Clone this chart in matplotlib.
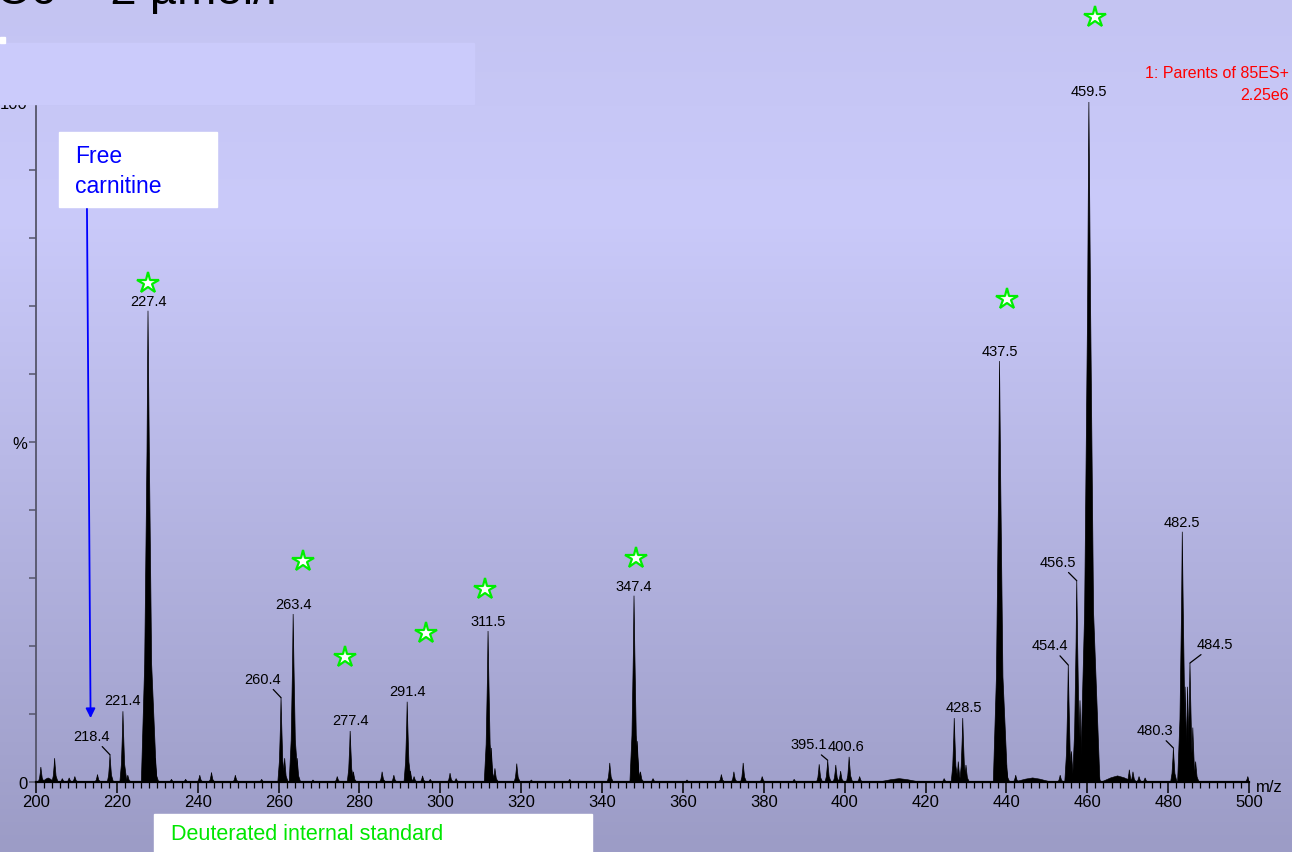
import numpy as np
import matplotlib

matplotlib.use("Agg")
import matplotlib.pyplot as plt
from matplotlib.colors import LinearSegmentedColormap
from matplotlib.patches import Rectangle

plt.rcParams["font.family"] = ["Liberation Sans", "DejaVu Sans"]

# apex position (as drawn on the m/z axis) and relative intensity (%) of each peak
peak_mz = [
    201.2, 204.6, 206.5, 208.2, 209.6, 215.2, 218.3, 221.5, 222.7,
    227.7, 228.6, 229.5, 233.5, 237.0, 240.5, 243.4, 249.3, 255.8,
    260.6, 261.5, 263.6, 264.6, 268.5, 274.5, 277.7, 278.5, 285.6, 288.5,
    291.8, 292.6, 293.5, 295.6, 297.5, 302.4, 303.9,
    311.8, 312.6, 313.5, 318.9, 322.5, 332.0, 341.9,
    347.9, 348.7, 349.5, 352.6, 361.0, 369.5, 372.6, 374.9, 379.6, 387.5,
    393.7, 395.8, 397.8, 399.0, 401.1, 403.7, 424.6,
    427.1, 428.1, 429.2, 430.0, 438.3, 439.2, 440.0, 442.3, 453.3,
    455.3, 456.1, 457.4, 458.2, 459.0, 460.4, 461.1, 461.8, 462.5,
    470.4, 471.3, 472.8, 474.3, 481.3, 483.5, 484.2, 484.8, 485.4,
    486.1, 486.8, 499.7,
]
peak_int = [
    2.2, 3.5, 0.5, 0.6, 0.8, 1.1, 4.0, 10.4, 1.0,
    69.3, 8.0, 3.5, 0.4, 0.4, 1.0, 1.4, 1.0, 0.4,
    12.4, 3.5, 24.7, 3.5, 0.3, 0.8, 7.5, 1.5, 1.5, 1.0,
    11.8, 1.6, 0.8, 0.9, 0.4, 1.3, 0.5,
    22.2, 5.0, 2.0, 2.7, 0.3, 0.4, 2.8,
    27.4, 6.0, 1.5, 0.5, 0.3, 1.1, 1.5, 2.8, 0.8, 0.4,
    2.6, 3.2, 2.5, 1.6, 3.7, 0.8, 0.5,
    9.4, 3.0, 9.4, 2.5, 61.9, 9.0, 2.5, 1.0, 1.0,
    17.2, 4.5, 29.6, 12.0, 8.0, 100.0, 30.0, 10.0, 3.0,
    1.8, 1.5, 0.8, 0.6, 5.0, 36.8, 14.0, 14.0, 17.5,
    8.0, 3.0, 0.8,
]

# broad low humps in the baseline
hump_mz = [203.0, 413.5, 446.5, 467.5]
hump_int = [0.6, 0.5, 0.6, 0.9]
hump_width = [1.5, 5.0, 4.5, 4.0]

# labelled peaks: (label, apex m/z, intensity, label offset in px, leader line)
labels = [
    ("218.4", 218.3, 4.0, (-18, 19), True),
    ("221.4", 221.5, 10.4, (0, 4), False),
    ("227.4", 227.7, 69.3, (0, 3), False),
    ("260.4", 260.6, 12.4, (-18, 19), True),
    ("263.4", 263.6, 24.7, (0, 3), False),
    ("277.4", 277.7, 7.5, (0, 4), False),
    ("291.4", 291.8, 11.8, (0, 4), False),
    ("311.5", 311.8, 22.2, (0, 3), False),
    ("347.4", 347.9, 27.4, (0, 3), False),
    ("395.1", 395.8, 3.2, (-19, 16), True),
    ("400.6", 401.1, 3.7, (-3, 4), False),
    ("428.5", 429.2, 9.4, (1, 4), False),
    ("437.5", 438.3, 61.9, (0, 3), False),
    ("454.4", 455.3, 17.2, (-18, 20), True),
    ("456.5", 457.4, 29.6, (-19, 19), True),
    ("459.5", 460.4, 100.0, (0, 4), False),
    ("480.3", 481.3, 5.0, (-18, 18), True),
    ("482.5", 483.5, 36.8, (0, 3), False),
    ("484.5", 485.4, 17.5, (25, 19), True),
]

# deuterated internal standards (stars)
star_mz = [227.7, 266.0, 276.4, 296.5, 311.0, 348.4, 440.2, 461.9]
star_int = [73.4, 32.5, 18.4, 21.9, 28.4, 33.0, 71.0, 112.5]

title = "C6 = 2 \u00b5mol/l"
trace_title = "1: Parents of 85ES+"
trace_scale = "2.25e6"

W, H = 1292, 853
fig = plt.figure(figsize=(W / 100, H / 100), dpi=100)

# background gradient
bg = fig.add_axes([0, 0, 1, 1], zorder=-10)
cmap = LinearSegmentedColormap.from_list(
    "bg",
    [(0.0, "#c4c4f2"), (0.25, "#cacafa"), (0.55, "#b8b8e6"), (1.0, "#9c9cc6")],
)
bg.imshow(np.linspace(0, 1, 256)[:, None], aspect="auto", cmap=cmap,
          extent=[0, 1, 0, 1], origin="upper")
bg.axis("off")

x0, x1, ytop, ybot = 36, 1249, 103, 783
ax = fig.add_axes([x0 / W, 1 - ybot / H, (x1 - x0) / W, (ybot - ytop) / H])
ax.set_facecolor("none")

# peak profile template (relative shape)
rel_x = np.array([-1.0, -0.5, -0.15, 0.0, 0.2, 0.55, 1.3])
rel_y = np.array([0.0, 0.25, 0.7, 1.0, 0.7, 0.25, 0.0])
for mz, h in zip(peak_mz, peak_int):
    w = 0.6 + 0.015 * h
    ax.fill(mz + rel_x * w, rel_y * h, color="black", lw=0.5)
for mz, h, w in zip(hump_mz, hump_int, hump_width):
    ax.fill([mz - w, mz - w * 0.4, mz, mz + w * 0.4, mz + w],
            [0, h * 0.7, h, h * 0.7, 0], color="black", lw=0.4)

ax.set_xlim(200, 500)
ax.set_ylim(0, 100)
for s in ["top", "right"]:
    ax.spines[s].set_visible(False)
ax.spines["left"].set_color("#55556a")
ax.spines["left"].set_linewidth(1.3)
ax.spines["bottom"].set_color("black")
ax.spines["bottom"].set_linewidth(1.6)

ax.set_xticks(np.arange(200, 501, 20))
ax.set_xticks(np.arange(200, 501, 2), minor=True)
ax.tick_params(axis="x", which="major", length=8, width=1.1, labelsize=12, pad=1)
ax.tick_params(axis="x", which="minor", length=4, width=0.9)
ax.set_yticks(np.arange(0, 101, 10))
ax.set_yticklabels(["0", "", "", "", "", "%", "", "", "", "", "100"])
ax.tick_params(axis="y", length=5, width=1.1, color="#55556a", labelsize=12, pad=1)
ax.text(1.006, -0.006, "m/z", transform=ax.transAxes, fontsize=12,
        ha="left", va="center")

for txt, mz, h, (dx, dy), leader in labels:
    if leader:
        ax.annotate(txt, xy=(mz, h), xytext=(dx, dy), textcoords="offset pixels",
                    ha="center", va="center", fontsize=10.5,
                    arrowprops=dict(arrowstyle="-", lw=0.9, color="black",
                                    shrinkA=1, shrinkB=0))
    else:
        ax.annotate(txt, xy=(mz, h), xytext=(dx, dy), textcoords="offset pixels",
                    ha="center", va="bottom", fontsize=10.5)

ax.plot(star_mz, star_int, ls="none", marker="*", ms=16, mfc="white",
        mec="#00ee00", mew=1.6, clip_on=False, zorder=5)

# free carnitine callout
ax.annotate("", xy=(213.5, 9.4), xytext=(212.6, 84.6),
            arrowprops=dict(arrowstyle="-|>", color="#0000ff", lw=1.3,
                            mutation_scale=14, shrinkA=0, shrinkB=0))
fig.patches.append(Rectangle((59 / W, 1 - 208 / H), 158 / W, 75 / H,
                             transform=fig.transFigure, color="white", zorder=3))
fig.text(75 / W, 1 - 145 / H, "Free\ncarnitine", color="#0000ff", fontsize=16.5,
         ha="left", va="top", linespacing=1.4, zorder=4)

# deuterated internal standard box
fig.patches.append(Rectangle((154 / W, 0), 438 / W, 38 / H,
                             transform=fig.transFigure, color="white", zorder=3))
fig.text(171 / W, 1 - 835 / H, "Deuterated internal standard", color="#00e600",
         fontsize=15.5, ha="left", va="center", zorder=4)

# header band over the top of the axis
fig.patches.append(Rectangle((0, 1 - 105 / H), 474 / W, 61 / H,
                             transform=fig.transFigure, color="#cbcbfb", zorder=3))
fig.patches.append(Rectangle((0, 1 - 44 / H), 5 / W, 6 / H,
                             transform=fig.transFigure, color="white", zorder=3))
fig.text(-4 / W, 1 - 4 / H, title, fontsize=34, ha="left", va="baseline",
         color="black", zorder=4)

fig.text(1289 / W, 1 - 73 / H, trace_title, color="#ff0000", fontsize=11.5,
         ha="right", va="center")
fig.text(1289 / W, 1 - 95 / H, trace_scale, color="#ff0000", fontsize=11.5,
         ha="right", va="center")

fig.savefig("out.png", dpi=100)
